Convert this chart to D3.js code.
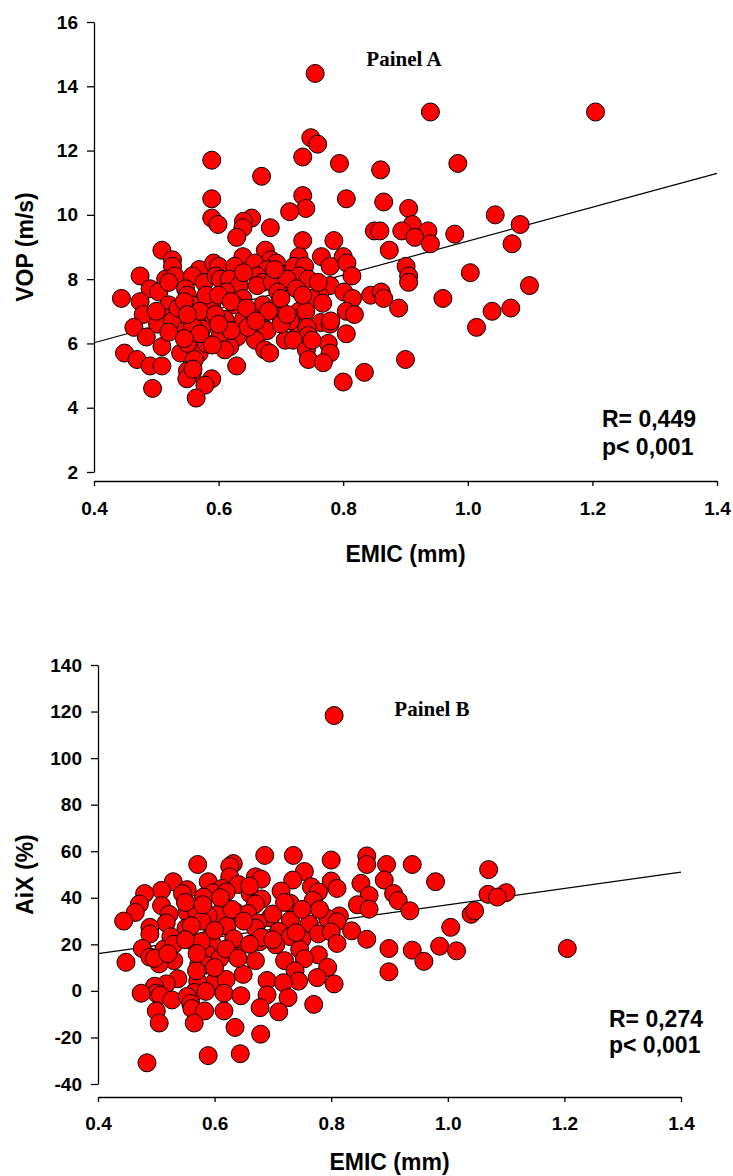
<!DOCTYPE html>
<html>
<head>
<meta charset="utf-8">
<script src="https://cdn.jsdelivr.net/npm/d3@7"></script>
<style>
  html, body { margin: 0; padding: 0; background: #fff; }
  svg text { font-family: "Liberation Sans Narrow", "Arial Narrow", "Liberation Sans", Arial, sans-serif; font-weight: bold; fill: #000; }
</style>
</head>
<body>
<svg id="chart" width="733" height="1176"></svg>
<script>
// ---------- Panel A data: EMIC (mm) vs VOP (m/s) ----------
const emicA = [
  0.755,0.94,1.205,0.748,0.759,0.735,0.589,0.794,0.984,0.86,0.669,0.589,0.735,0.74,0.805,0.865,0.905,0.714,1.044,0.589,
  0.599,0.653,0.64,0.683,0.639,0.629,1.084,0.911,0.85,0.859,0.894,0.936,0.915,0.979,0.735,0.785,0.94,1.071,0.874,0.509,
  0.675,0.765,0.729,0.639,0.8,0.901,0.779,0.806,0.684,0.693,0.526,0.526,0.569,0.592,0.6,0.626,0.658,0.678,0.708,0.721,
  0.738,0.729,0.744,0.814,1.004,0.474,0.515,0.53,0.558,0.577,0.596,0.603,0.617,0.633,0.662,0.671,0.662,0.686,0.71,0.905,
  0.905,0.779,1.099,0.49,0.504,0.547,0.55,0.612,0.639,0.695,0.725,0.762,0.801,0.815,0.844,0.861,0.865,0.96,0.444,0.474,
  0.558,0.589,0.671,0.75,0.767,0.52,0.69,0.729,0.74,0.805,0.818,0.889,1.039,1.069,0.479,0.513,0.539,0.565,0.65,0.502,
  0.526,0.58,0.605,0.624,0.671,0.678,0.764,0.779,0.464,0.547,0.573,0.729,0.742,1.014,0.484,0.566,0.63,0.744,0.805,0.707,
  0.72,0.659,0.599,0.509,0.618,0.776,0.449,0.539,0.569,0.674,0.741,0.682,0.779,0.469,0.561,0.744,0.768,0.9,0.49,0.509,
  0.629,0.55,0.558,0.834,0.549,0.589,0.578,0.494,0.8,0.564,0.559,0.58,0.6,0.626,0.592,0.61,0.64,0.535,0.7,0.715,
  0.558,0.603,0.58,0.647,0.55,0.61,
  0.52,0.545,0.57,0.595,0.62,0.645,0.68,0.7,0.735,0.7,0.62,0.66,0.55,0.52,0.6,0.64,0.69,0.76,0.5,0.57,
  0.545,0.59,0.75,0.71,0.78
];
const vopA = [
  14.4,13.2,13.2,12.4,12.2,11.8,11.7,11.6,11.6,11.4,11.2,10.5,10.6,10.2,10.5,10.4,10.2,10.1,10.0,9.9,
  9.7,9.9,9.8,9.6,9.6,9.3,9.7,9.7,9.5,9.5,9.5,9.5,9.3,9.4,9.2,9.2,9.1,9.1,8.9,8.9,
  8.9,8.7,8.7,8.7,8.7,8.4,8.4,8.5,8.6,8.5,8.6,8.4,8.3,8.5,8.4,8.4,8.5,8.3,8.15,8.4,
  8.4,8.1,8.0,8.1,8.2,8.1,8.0,8.1,8.1,7.9,8.1,8.0,8.0,7.8,8.1,7.9,7.8,7.9,8.0,8.1,
  7.9,7.8,7.8,7.7,7.6,7.7,7.5,7.6,7.4,7.6,7.7,7.5,7.6,7.4,7.5,7.6,7.4,7.4,7.4,7.3,
  7.2,7.2,7.2,7.4,7.25,7.2,7.1,7.0,7.0,7.0,6.9,7.1,7.0,7.1,6.9,6.8,6.8,6.9,6.9,6.6,
  6.7,6.65,6.7,6.5,6.5,6.4,6.65,6.6,6.5,6.4,6.45,6.4,6.5,6.5,6.2,6.2,6.2,6.25,6.3,6.1,
  6.1,6.1,6.0,5.9,5.9,6.0,5.7,5.7,5.7,5.8,5.8,5.7,5.7,5.5,5.5,5.5,5.4,5.5,5.3,5.3,
  5.3,5.15,5.1,5.1,4.9,4.9,4.7,4.6,4.8,4.3,5.2,7.5,7.5,7.2,6.85,6.75,6.75,7.1,6.85,6.7,
  6.55,6.3,6.0,6.5,6.0,5.8,
  7.9,7.3,7.0,6.9,7.3,7.1,7.0,7.4,7.5,6.6,6.4,6.7,6.9,6.35,6.6,8.2,8.3,7.9,7.0,6.3,
  6.15,5.95,6.1,6.9,6.7
];
const fitA = [3.912, 5.27];          // intercept, slope
const statsA = ["R= 0,449", "p< 0,001"];

// ---------- Panel B data: EMIC (mm) vs AiX (%) ----------
const emicB = [
  0.805,0.686,0.735,0.8,0.861,0.861,0.895,0.939,0.571,0.632,0.626,1.07,0.754,0.67,0.626,0.734,0.68,0.589,0.529,0.8,
  0.891,0.979,0.641,0.851,0.766,0.81,0.553,0.613,0.509,0.714,0.661,0.778,1.1,0.48,0.545,0.597,0.62,0.907,1.069,0.581,
  0.681,0.769,0.865,0.915,1.085,0.471,0.73,0.509,0.67,0.845,0.464,0.553,0.637,0.657,0.605,0.589,0.522,0.569,0.865,0.935,
  1.04,1.046,0.814,0.695,0.444,0.73,0.794,0.517,0.578,0.674,0.762,0.81,0.551,0.489,0.621,0.67,1.005,0.835,0.71,0.778,
  0.8,0.489,0.525,0.593,0.73,0.75,0.861,0.561,0.677,0.81,0.476,0.597,0.64,0.986,0.899,1.205,0.513,0.626,0.746,0.939,
  1.015,0.778,0.589,0.489,0.609,0.53,0.67,0.72,0.754,0.959,0.448,0.505,0.573,0.585,0.794,0.738,0.899,0.649,0.537,0.69,
  0.601,0.571,0.744,0.62,0.776,0.805,0.718,0.517,0.497,0.5,0.474,0.565,0.585,0.616,0.645,0.69,0.507,0.527,0.553,0.726,
  0.559,0.678,0.77,0.561,0.5,0.583,0.616,0.71,0.565,0.505,0.635,0.679,0.589,0.644,0.484,0.569,0.497,0.705,0.633,0.577,
  0.55,0.58,0.6,0.63,0.66,0.7,0.72,0.75,0.65,0.56,0.53,0.6,0.62,0.68,0.74,0.78,0.57,0.52,0.55,0.64,
  0.7,0.61,0.66
];
const aixB = [
  118.3,58.2,58.2,56.2,58,54.3,54.3,54.3,54.3,54.7,53.5,52.1,51.3,49,49,47.6,48,46.9,46.9,47.2,
  47.6,46.9,45.7,46.2,44.7,44,43.5,44,43.2,42.9,41.7,42.5,42.2,41.8,41.8,42.1,42.5,41.8,41.5,40.3,
  39.5,38.8,41,38.8,40.3,37.3,37.6,36.6,37.3,37,33.7,33.7,33.7,33.2,32.9,32.2,32.9,34.4,35.1,34.4,
  32.9,34.4,32.2,31.4,30,30.3,31.1,29.2,30,29.2,28.8,29.7,27,27.3,27.9,27,27.3,25.8,25.6,24.5,
  25.3,24.4,23.3,23.3,23.3,22.3,22.2,21.6,21.1,20.4,18.2,20,19.2,19.2,18.2,18.2,17.9,17.5,17.8,17.5,
  17.2,15.5,15.5,14.5,14,13,13,13,13.8,12.7,12.3,11.6,11.6,11.1,10.1,8.6,8.2,7.1,5.2,4.5,
  4.2,4.2,4.2,4.9,5.7,3.0,3.5,3.0,2,-1,-1,-0.7,-0.2,-1,-2.1,-1.7,-1.8,-3.9,-2.4,-2.9,
  -5.4,-7.2,-5.8,-7.6,-8.6,-8.6,-8.6,-9,-13.8,-13.8,-15.7,-18.6,-27.8,-27,-30.9,8.6,14,19.8,22.4,21.2,
  38,37,26,35,45,33,38,35,30,28,20,10,18,23,25,35,16,16,22,14,
  22,40,20
];
const fitB = [2, 35];                // intercept, slope
const statsB = ["R= 0,274", "p< 0,001"];

const xTicks = [0.4, 0.6, 0.8, 1.0, 1.2, 1.4];
const yTicksA = [2, 4, 6, 8, 10, 12, 14, 16];
const yTicksB = [-40, -20, 0, 20, 40, 60, 80, 100, 120, 140];

const svg = d3.select("#chart");

function panel(cfg) {
  const g = svg.append("g");
  const x = d3.scaleLinear().domain([0.4, 1.4]).range([cfg.x0, cfg.x1]);
  const y = d3.scaleLinear().domain(cfg.yDomain).range([cfg.yBottom, cfg.yTop]);

  // y axis
  const ya = g.append("g").attr("transform", `translate(${cfg.x0},0)`)
    .call(d3.axisLeft(y).tickValues(cfg.yTicks).tickSize(7).tickSizeOuter(0).tickPadding(9)
      .tickFormat(d => String(d)));
  // x axis
  const xa = g.append("g").attr("transform", `translate(0,${cfg.xAxisY})`)
    .call(d3.axisBottom(x).tickValues(xTicks).tickSize(5).tickSizeOuter(0).tickPadding(cfg.xPad)
      .tickFormat(d3.format(".1f")));
  [ya, xa].forEach(a => {
    a.selectAll("path,line").attr("stroke", "#000").attr("stroke-width", 1.3);
    a.selectAll("text").attr("font-size", 19).attr("font-family", null).attr("fill", "#000");
  });

  // regression line
  g.append("line")
    .attr("x1", x(0.4)).attr("y1", y(cfg.fit[0] + cfg.fit[1] * 0.4))
    .attr("x2", x(1.4)).attr("y2", y(cfg.fit[0] + cfg.fit[1] * 1.4))
    .attr("stroke", "#000").attr("stroke-width", 1.2);

  // points
  const data = cfg.xs.map((v, i) => ({ x: v, y: cfg.ys[i] }));
  g.append("g").selectAll("circle").data(data).join("circle")
    .attr("cx", d => x(d.x)).attr("cy", d => y(d.y)).attr("r", 9)
    .attr("fill", "#ff0000").attr("stroke", "#000").attr("stroke-width", 1);

  // titles
  g.append("text").attr("x", (cfg.x0 + cfg.x1) / 2).attr("y", cfg.xTitleY)
    .attr("text-anchor", "middle").attr("font-size", 23).text("EMIC (mm)");
  g.append("text").attr("transform", `translate(33,${(cfg.yTop + cfg.yBottom) / 2}) rotate(-90)`)
    .attr("text-anchor", "middle").attr("font-size", 23).text(cfg.yTitle);
  g.append("text").attr("x", cfg.panelX).attr("y", cfg.panelY)
    .attr("text-anchor", "middle").attr("font-size", 21)
    .style("font-family", "'Liberation Serif','Times New Roman',serif").text(cfg.panelLabel);
  g.append("text").attr("x", cfg.statX).attr("y", cfg.statY1).attr("font-size", 23).text(cfg.stats[0]);
  g.append("text").attr("x", cfg.statX).attr("y", cfg.statY2).attr("font-size", 23).text(cfg.stats[1]);
}

panel({
  x0: 94, x1: 717, yTop: 22, yBottom: 472, yDomain: [2, 16], yTicks: yTicksA, xAxisY: 481, xPad: 16,
  xs: emicA, ys: vopA, fit: fitA, xTitleY: 562, yTitle: "VOP (m/s)",
  panelLabel: "Painel A", panelX: 404, panelY: 66, stats: statsA, statX: 602, statY1: 427, statY2: 455
});
panel({
  x0: 98, x1: 681, yTop: 665, yBottom: 1084, yDomain: [-40, 140], yTicks: yTicksB, xAxisY: 1097, xPad: 15,
  xs: emicB, ys: aixB, fit: fitB, xTitleY: 1170, yTitle: "AiX (%)",
  panelLabel: "Painel B", panelX: 432, panelY: 716, stats: statsB, statX: 609, statY1: 1027, statY2: 1053
});
</script>
</body>
</html>
